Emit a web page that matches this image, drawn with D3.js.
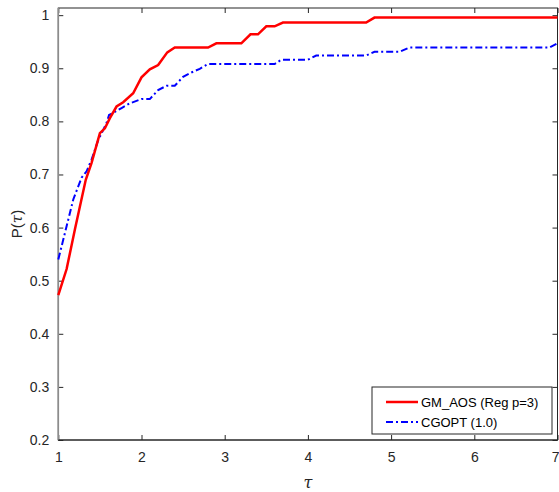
<!DOCTYPE html>
<html>
<head>
<meta charset="utf-8">
<script src="https://cdn.jsdelivr.net/npm/d3@7"></script>
<style>
  html, body { margin: 0; padding: 0; background: #fff; }
  svg { display: block; font-family: "Liberation Sans", Arial, sans-serif; }
</style>
</head>
<body>
<svg id="chart" width="559" height="492"></svg>
<script>
// ---- data ----
const seriesNames = ["GM_AOS (Reg p=3)", "CGOPT (1.0)"];
const gmTau = [1.00, 1.10, 1.20, 1.33, 1.40, 1.50, 1.56, 1.62, 1.70, 1.78, 1.90, 2.00, 2.10, 2.20, 2.31, 2.40, 2.80, 2.90, 3.20, 3.31, 3.40, 3.50, 3.60, 3.70, 4.70, 4.80, 7.00];
const gmP   = [0.473, 0.522, 0.597, 0.690, 0.722, 0.778, 0.787, 0.806, 0.828, 0.836, 0.853, 0.883, 0.898, 0.906, 0.930, 0.939, 0.939, 0.947, 0.947, 0.964, 0.964, 0.979, 0.979, 0.986, 0.986, 0.9955, 0.9955];
const cgTau = [1.00, 1.08, 1.18, 1.28, 1.34, 1.40, 1.48, 1.54, 1.58, 1.61, 1.66, 1.76, 1.86, 2.00, 2.10, 2.20, 2.30, 2.40, 2.50, 2.60, 2.70, 2.80, 3.60, 3.68, 4.00, 4.10, 4.70, 4.80, 5.10, 5.22, 6.90, 7.00];
const cgP   = [0.540, 0.590, 0.653, 0.694, 0.706, 0.728, 0.765, 0.784, 0.797, 0.812, 0.816, 0.825, 0.834, 0.842, 0.842, 0.859, 0.867, 0.867, 0.884, 0.892, 0.899, 0.908, 0.908, 0.916, 0.916, 0.924, 0.924, 0.931, 0.931, 0.939, 0.939, 0.947];
const xTicks = [1, 2, 3, 4, 5, 6, 7];
const yTicks = [0.2, 0.3, 0.4, 0.5, 0.6, 0.7, 0.8, 0.9, 1];

// ---- layout ----
const svg = d3.select("#chart");
const L = 58.3, R = 557.5, T = 8, B = 440;
const x = d3.scaleLinear().domain([1, 7]).range([L, R]);
const y = d3.scaleLinear().domain([0.2, 1.0135]).range([B, T]);
const axisColor = "#262626";
const tickLen = 5;

// box
svg.append("rect").attr("x", L).attr("y", T).attr("width", R - L).attr("height", B - T)
  .attr("fill", "none").attr("stroke", axisColor).attr("stroke-width", 1);

// axes (ticks inside)
const fmtY = d => (d === 1 ? "1" : d3.format(".1f")(d));
const gx = svg.append("g").attr("transform", `translate(0,${B})`)
  .call(d3.axisBottom(x).tickValues(xTicks).tickSize(-tickLen).tickPadding(12).tickFormat(d3.format("d")));
const gxTop = svg.append("g").attr("transform", `translate(0,${T})`)
  .call(d3.axisTop(x).tickValues(xTicks).tickSize(-tickLen).tickFormat(""));
const gy = svg.append("g").attr("transform", `translate(${L},0)`)
  .call(d3.axisLeft(y).tickValues(yTicks).tickSize(-tickLen).tickPadding(9).tickFormat(fmtY));
const gyR = svg.append("g").attr("transform", `translate(${R},0)`)
  .call(d3.axisRight(y).tickValues(yTicks).tickSize(-tickLen).tickFormat(""));
[gx, gxTop, gy, gyR].forEach(g => {
  g.select(".domain").remove();
  g.selectAll(".tick line").attr("stroke", axisColor);
  g.selectAll(".tick text").attr("fill", axisColor).style("font-size", "14px")
    .style("font-family", "'Liberation Sans', Arial, sans-serif");
});
// keep the last x tick label inside the window
gx.selectAll(".tick text").filter(d => d === 7).attr("text-anchor", "end").attr("x", 559 - R);

// left axis line drawn gray as in reference
svg.append("line").attr("x1", L).attr("x2", L).attr("y1", T).attr("y2", B)
  .attr("stroke", "#8c8c8c").attr("stroke-width", 1.6);
svg.append("line").attr("x1", L).attr("x2", R).attr("y1", B).attr("y2", B)
  .attr("stroke", axisColor).attr("stroke-width", 1);

// lines
const line = d3.line().x(d => x(d[0])).y(d => y(d[1]));
const gmData = gmTau.map((t, i) => [t, gmP[i]]);
const cgData = cgTau.map((t, i) => [t, cgP[i]]);
svg.append("path").datum(cgData).attr("d", line).attr("fill", "none")
  .attr("stroke", "#0000ff").attr("stroke-width", 2).attr("stroke-dasharray", "7,3,2,3");
svg.append("path").datum(gmData).attr("d", line).attr("fill", "none")
  .attr("stroke", "#ff0000").attr("stroke-width", 2.5);

// labels
svg.append("text").attr("x", x(4)).attr("y", 488).attr("text-anchor", "middle")
  .style("font-family", "'DejaVu Serif', 'Liberation Serif', serif").style("font-style", "italic")
  .style("font-size", "16px").attr("fill", axisColor).text("τ");
const yl = svg.append("text").attr("transform", `translate(22,${(T + B) / 2}) rotate(-90)`)
  .attr("text-anchor", "middle").attr("fill", axisColor).style("font-size", "15px");
yl.append("tspan").text("P(");
yl.append("tspan").style("font-family", "'DejaVu Serif', 'Liberation Serif', serif").style("font-style", "italic").text("τ");
yl.append("tspan").text(")");

// legend
const lg = svg.append("g");
lg.append("rect").attr("x", 372).attr("y", 387).attr("width", 180).attr("height", 47)
  .attr("fill", "#fff").attr("stroke", axisColor).attr("stroke-width", 1);
const legendItems = [
  { name: seriesNames[0], color: "#ff0000", dash: null, w: 2.5, yy: 402 },
  { name: seriesNames[1], color: "#0000ff", dash: "7,3,2,3", w: 2, yy: 422 }
];
legendItems.forEach(it => {
  lg.append("line").attr("x1", 386).attr("x2", 418).attr("y1", it.yy).attr("y2", it.yy)
    .attr("stroke", it.color).attr("stroke-width", it.w).attr("stroke-dasharray", it.dash);
  lg.append("text").attr("x", 421).attr("y", it.yy + 4.5).attr("fill", "#000")
    .style("font-size", "13px").text(it.name);
});
</script>
</body>
</html>
